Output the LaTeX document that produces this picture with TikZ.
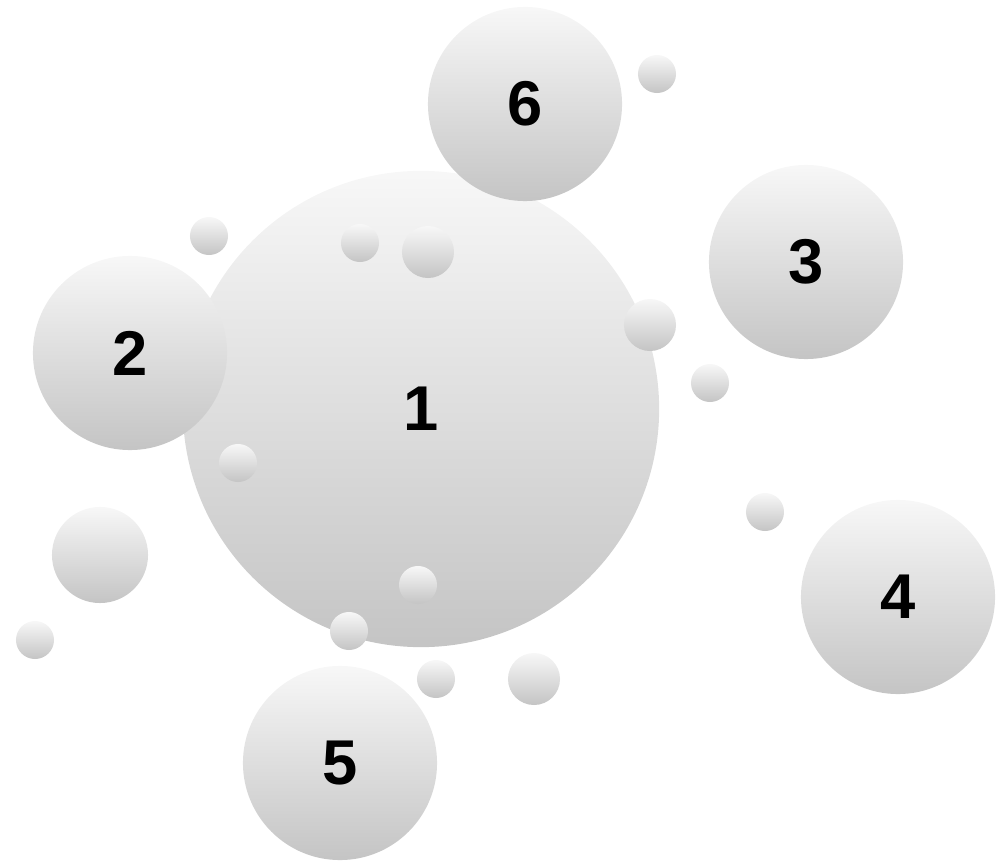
\documentclass[tikz,border=0pt]{standalone}
\usepackage{fontspec}
\setmainfont{Liberation Sans}
\usepackage{tikz}

\begin{document}
\begin{tikzpicture}[
    x=0.01cm, y=-0.01cm,
    bub/.style={circle, inner sep=0pt, draw=none, top color=black!3, bottom color=black!23, font=\fontsize{18}{18}\selectfont\bfseries},
    big/.style={bub, minimum size=4.76cm},
    mid/.style={bub, minimum size=1.94cm},
    dot/.style={bub, minimum size=0.38cm},
    dotb/.style={bub, minimum size=0.52cm}
]
\useasboundingbox (0,0) rectangle (1000,861);
% main bubble
\node[big] (one) at (421,409) {1};
% numbered bubbles
\node[mid] (two) at (130,353) {2};
\node[mid] (three) at (806,262) {3};
\node[mid] (four) at (898,597) {4};
\node[mid] (five) at (340,763) {5};
\node[mid] (six) at (525,104) {6};
% small bubbles
\node[bub, minimum size=0.96cm] (s1) at (100,555) {};
\node[dot] (s2) at (657,74) {};
\node[dot] (s3) at (209,236) {};
\node[dot] (s4) at (360,243) {};
\node[dotb] (s5) at (428,252) {};
\node[dotb] (s6) at (650,325) {};
\node[dot] (s7) at (710,383) {};
\node[dot] (s8) at (238,463) {};
\node[dot] (s9) at (765,512) {};
\node[dot] (s10) at (35,640) {};
\node[dot] (s11) at (418,585) {};
\node[dot] (s12) at (349,631) {};
\node[dot] (s13) at (436,679) {};
\node[dotb] (s14) at (534,679) {};
\end{tikzpicture}
\end{document}
